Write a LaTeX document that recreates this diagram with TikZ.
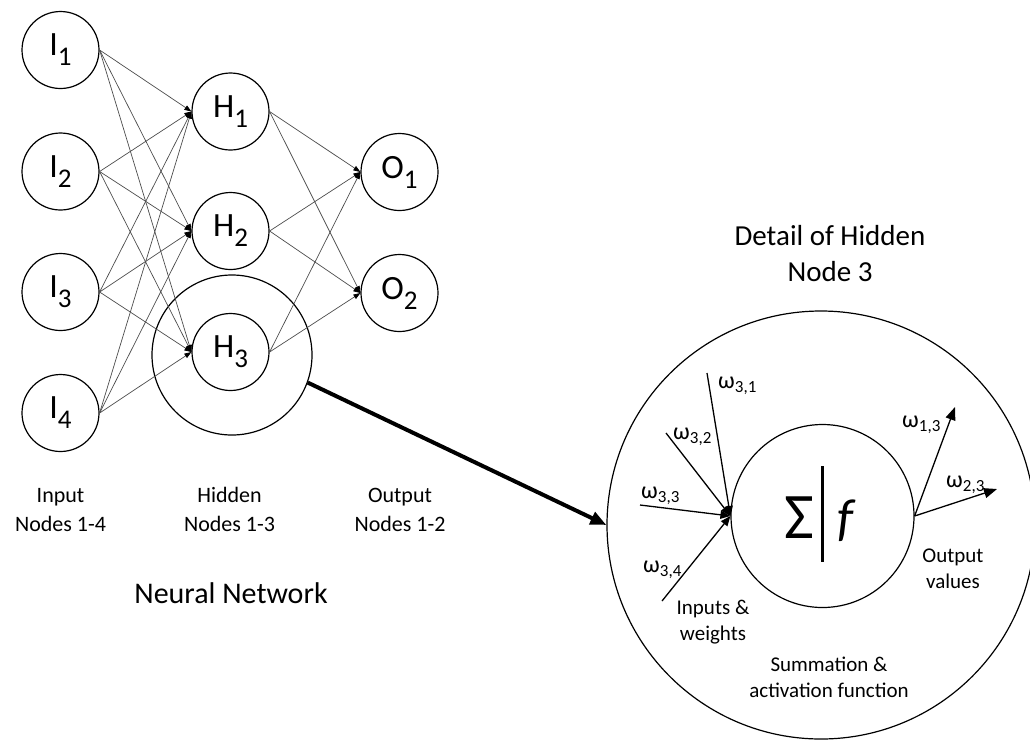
\documentclass[tikz,border=0pt]{standalone}
\usepackage{fontspec}
\setmainfont{Carlito}
\usetikzlibrary{arrows.meta}
\newcommand\myfs[2]{\fontsize{#1}{#2}\selectfont}
\newcommand\nlab[2]{#1\raisebox{-10pt}{\myfs{27}{27}\selectfont #2}}
\newcommand\wlab[1]{ω\raisebox{-4pt}{\myfs{17}{17}\selectfont #1}}
\begin{document}
\begin{tikzpicture}[x=1pt,y=-1pt,
  neuron/.style={circle,draw,line width=1.2pt,minimum size=77pt,inner sep=0pt,font=\myfs{34}{34}},
  ring/.style={circle,draw,line width=1.2pt,inner sep=0pt},
  conn/.style={draw=black!70,line width=0.7pt,-{Triangle[length=7pt,width=5pt,fill=black,color=black]}},
  bigarrow/.style={line width=4pt,-{Triangle[length=16pt,width=13pt]}},
  inarrow/.style={line width=1.3pt,-{Triangle[length=10pt,width=8pt]}},
  outarrow/.style={line width=1.3pt,-{Triangle[length=13pt,width=10pt]}},
  lbl/.style={align=center,inner sep=0pt,anchor=base,font=\myfs{22}{29}},
  slbl/.style={align=center,inner sep=0pt,anchor=base,font=\myfs{21}{26}},
  ttl/.style={align=center,inner sep=0pt,anchor=base,font=\myfs{29}{36}},
  wl/.style={inner sep=0pt,anchor=base west,font=\myfs{24}{24}}
]
\useasboundingbox (0,0) rectangle (1030,740);
% network nodes
\node[neuron] (I1) at (60.5,50) {\nlab{I}{1}};
\node[neuron] (I2) at (60.5,171.5) {\nlab{I}{2}};
\node[neuron] (I3) at (60.5,292) {\nlab{I}{3}};
\node[neuron] (I4) at (60.5,413) {\nlab{I}{4}};
\node[neuron] (H1) at (230.5,111.5) {\nlab{H}{1}};
\node[neuron] (H2) at (230.5,231) {\nlab{H}{2}};
\node[neuron] (H3) at (230.5,352) {\nlab{H}{3}};
\node[neuron] (O1) at (399.5,172) {\nlab{O}{1}};
\node[neuron] (O2) at (399.5,293) {\nlab{O}{2}};
\node[ring,minimum size=160pt] (bigH) at (232,355) {};
% connections
\foreach \i in {1,2,3,4}{
  \foreach \h in {1,2,3}{
    \draw[conn] (I\i.east) -- (H\h.west);
  }
}
\foreach \h in {1,2,3}{
  \foreach \o in {1,2}{
    \draw[conn] (H\h.east) -- (O\o.west);
  }
}
% labels
\node[lbl] (linp) at (60.5,531) {Input\\Nodes 1-4};
\node[lbl] (lhid) at (229.5,531) {Hidden\\Nodes 1-3};
\node[lbl] (lout) at (400,531) {Output\\Nodes 1-2};
\node[inner sep=0pt,anchor=base,font=\myfs{30}{36}] (lnn) at (231,603) {Neural Network};
% detail
\node[ring,minimum size=428pt] (det) at (821,525) {};
\node[ring,minimum size=183pt] (sf) at (822.5,516) {};
\node[ttl] (ldet) at (830,281) {Detail of Hidden\\Node 3};
\draw[bigarrow] (bigH.-20) -- (det.west);
\node[inner sep=0pt,font=\myfs{65}{65}] (sig) at (799,518) {Σ};
\node[inner sep=0pt,font=\myfs{52}{52}\itshape] (fn) at (845,521) {f};
\draw[line width=3pt] (822,466) -- (822,562);
\coordinate (w1s) at (707,373);
\coordinate (w2s) at (666,433);
\coordinate (w3s) at (640,505);
\coordinate (w4s) at (662,601);
\foreach \k in {1,2,3,4}{
  \draw[inarrow] (w\k s) -- (sf.west);
}
\coordinate (o1e) at (955,407);
\coordinate (o2e) at (997,489);
\draw[outarrow] (sf.east) -- (o1e);
\draw[outarrow] (sf.east) -- (o2e);
\node[wl] (lw31) at (718,388) {\wlab{3,1}};
\node[wl] (lw32) at (673,439) {\wlab{3,2}};
\node[wl] (lw33) at (641,498) {\wlab{3,3}};
\node[wl] (lw34) at (643,572) {\wlab{3,4}};
\node[wl] (lw13) at (902,427) {\wlab{1,3}};
\node[wl] (lw23) at (946,487) {\wlab{2,3}};
\node[slbl] (lov) at (953,588) {Output\\values};
\node[slbl] (liw) at (713,640) {Inputs \&\\weights};
\node[slbl] (lsaf) at (829,697) {Summation \&\\activation function};
\end{tikzpicture}
\end{document}
